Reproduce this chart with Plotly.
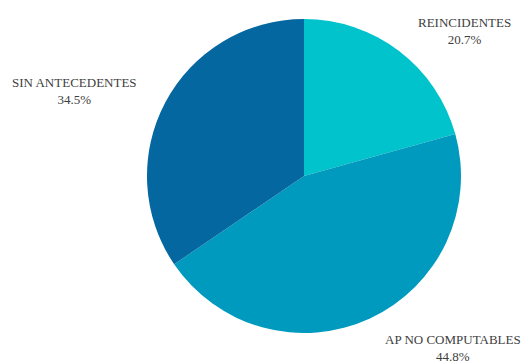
import plotly.graph_objects as go

# Share of cases by criminal record
categories = ["REINCIDENTES", "AP NO COMPUTABLES", "SIN ANTECEDENTES"]
shares = [20.7, 44.8, 34.5]
colors = ["#00C3CB", "#009ABF", "#05679F"]

W, H = 523, 363

# where each category label sits (pixel centre of the two-line label)
label_px = {
    "REINCIDENTES": (464, 31),
    "AP NO COMPUTABLES": (453, 348),
    "SIN ANTECEDENTES": (74, 91),
}

fig = go.Figure(
    go.Pie(
        labels=categories,
        values=shares,
        sort=False,
        direction="clockwise",
        rotation=0,
        marker=dict(colors=colors, line=dict(width=0)),
        textinfo="none",
        hoverinfo="label+percent",
        showlegend=False,
        domain=dict(x=[147 / W, 461 / W], y=[1 - 333 / H, 1 - 19 / H]),
    )
)

for cat, val in zip(categories, shares):
    px, py = label_px[cat]
    fig.add_annotation(
        x=px / W,
        y=1 - py / H,
        xref="paper",
        yref="paper",
        xanchor="center",
        yanchor="middle",
        text=f"{cat}<br>{val:.1f}%",
        showarrow=False,
        align="center",
        font=dict(family="Liberation Serif", size=13, color="#404040"),
    )

fig.update_layout(
    width=W,
    height=H,
    margin=dict(l=0, r=0, t=0, b=0),
    paper_bgcolor="white",
    plot_bgcolor="white",
    font=dict(family="Liberation Serif"),
)

fig.write_html("out.html")
